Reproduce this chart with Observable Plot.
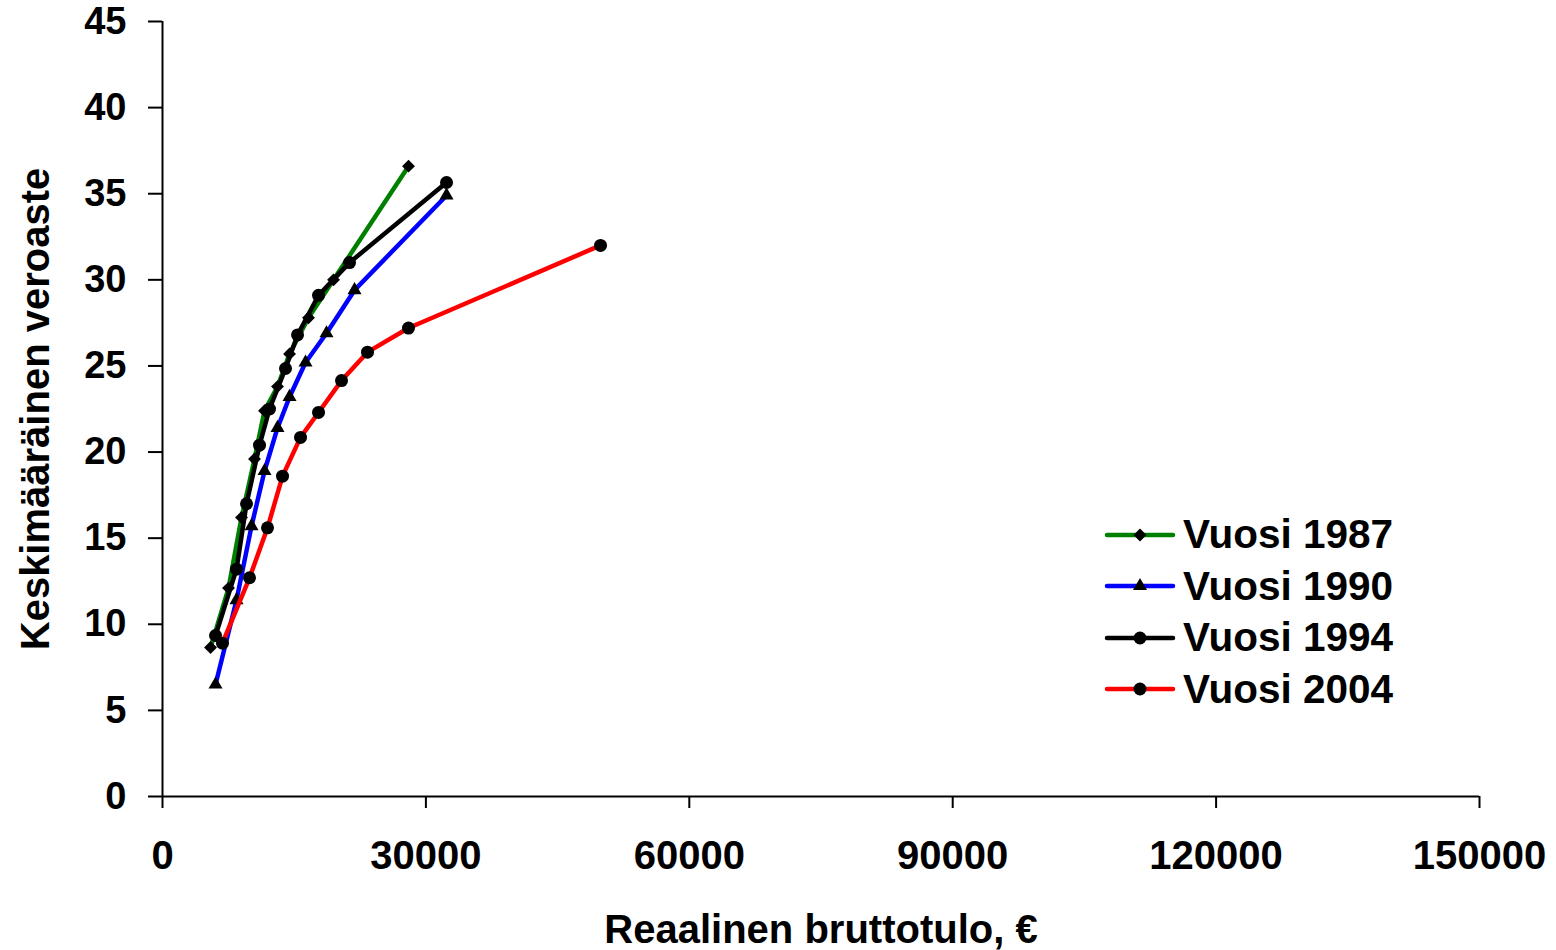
<!DOCTYPE html>
<html>
<head>
<meta charset="utf-8">
<script src="https://cdn.jsdelivr.net/npm/d3@7"></script>
<script src="https://cdn.jsdelivr.net/npm/@observablehq/plot@0.6"></script>
<style>
  html, body { margin: 0; padding: 0; background: #fff; }
  #wrap { position: relative; width: 1556px; height: 950px; font-family: "Liberation Sans", Arial, sans-serif; }
  #legend { position: absolute; left: 1105px; top: 509px; font-weight: bold; font-size: 40.5px; }
  .row { display: flex; align-items: center; height: 51.5px; }
  .row svg { margin-right: 8px; }
  svg { overflow: visible; }
</style>
</head>
<body>
<div id="wrap"><div id="legend"></div></div>
<script>
// Series names
const seriesNames = ["Vuosi 1987", "Vuosi 1990", "Vuosi 1994", "Vuosi 2004"];
const seriesColors = ["#008000", "#0000FF", "#000000", "#FF0000"];
const seriesSymbols = ["diamond2", "triangle", "circle", "circle"];

// Real gross income (€) and average tax rate (%) per series
const income1987 = [5470, 7520, 9000, 10480, 11620, 13100, 14470, 16630, 19480, 28020];
const rate1987   = [8.65, 12.1, 16.2, 19.6, 22.4, 23.8, 25.7, 27.8, 30.0, 36.6];
const income1990 = [6040, 8430, 10140, 11620, 13100, 14470, 16290, 18680, 21870, 32350];
const rate1990   = [6.5, 11.4, 15.7, 18.9, 21.4, 23.2, 25.2, 26.9, 29.4, 34.9];
const income1994 = [6040, 8430, 9570, 11050, 12190, 14010, 15380, 17770, 21300, 32350];
const rate1994   = [9.35, 13.2, 17.0, 20.4, 22.5, 24.85, 26.8, 29.1, 31.0, 35.65];
const income2004 = [6830, 9910, 11960, 13670, 15720, 17770, 20390, 23350, 28020, 49890];
const rate2004   = [8.9, 12.7, 15.6, 18.6, 20.85, 22.3, 24.15, 25.8, 27.2, 32.0];

// Axis ticks and labels
const xTicks = [0, 30000, 60000, 90000, 120000, 150000];
const yTicks = [0, 5, 10, 15, 20, 25, 30, 35, 40, 45];
const xLabel = "Reaalinen bruttotulo, €";
const yLabel = "Keskimääräinen veroaste";

const incomes = [income1987, income1990, income1994, income2004];
const rates = [rate1987, rate1990, rate1994, rate2004];
const data = seriesNames.flatMap((s, i) =>
  incomes[i].map((x, j) => ({series: s, x, y: rates[i][j]}))
);

const font = '"Liberation Sans", Arial, sans-serif';
const FS = 40;
const symR = {circle: 6.5, triangle: 5.2, diamond2: 5.8};
const marks = [];
seriesNames.forEach((s, i) => {
  const d = data.filter(p => p.series === s);
  marks.push(Plot.line(d, {x: "x", y: "y", stroke: seriesColors[i], strokeWidth: 4.5}));
  const sym = seriesSymbols[i];
  marks.push(Plot.dot(d, {x: "x", y: "y", symbol: () => sym, fill: "black", stroke: "none", r: symR[sym]}));
});

const chart = Plot.plot({
  width: 1556,
  height: 950,
  marginLeft: 162,
  marginRight: 77,
  marginTop: 21,
  marginBottom: 154,
  style: {fontFamily: font, fontSize: FS + "px", fontWeight: "bold", color: "black", background: "white"},
  x: {domain: [0, 150000], ticks: xTicks, tickFormat: d => String(d)},
  y: {domain: [0, 45], ticks: yTicks, tickFormat: d => String(d)},
  symbol: {type: "identity"},
  marks: [
    Plot.axisX({ticks: xTicks, tickFormat: d => String(d), tickSize: 12, tickPadding: 32, strokeWidth: 2, label: null}),
    Plot.axisY({ticks: yTicks, tickFormat: d => String(d), tickSize: 14, tickPadding: 22, strokeWidth: 2, fontSize: 38, label: null}),
    Plot.ruleX([0], {stroke: "black", strokeWidth: 2}),
    Plot.ruleY([0], {stroke: "black", strokeWidth: 2}),
    ...marks,
    Plot.text([xLabel], {text: d => d, frameAnchor: "bottom", lineAnchor: "middle", textAnchor: "middle", dy: 134, fontSize: FS, fontWeight: "bold", fill: "black"}),
    Plot.text([yLabel], {text: d => d, frameAnchor: "left", lineAnchor: "middle", textAnchor: "middle", dx: -126, rotate: -90, fontSize: FS, fontWeight: "bold", fill: "black"})
  ]
});
document.getElementById("wrap").prepend(chart);

// Legend
const legend = d3.select("#legend");
seriesNames.forEach((s, i) => {
  const row = legend.append("div").attr("class", "row");
  const svg = row.append("svg").attr("width", 70).attr("height", 20);
  svg.append("line").attr("x1", 2).attr("x2", 68).attr("y1", 10).attr("y2", 10)
    .attr("stroke", seriesColors[i]).attr("stroke-width", 4.5).attr("stroke-linecap", "round");
  const symType = {diamond2: d3.symbolDiamond2, triangle: d3.symbolTriangle, circle: d3.symbolCircle}[seriesSymbols[i]];
  const r = symR[seriesSymbols[i]];
  svg.append("path").attr("transform", "translate(35,10)").attr("d", d3.symbol(symType, Math.PI * r * r)()).attr("fill", "black");
  row.append("span").text(s);
});
</script>
</body>
</html>
